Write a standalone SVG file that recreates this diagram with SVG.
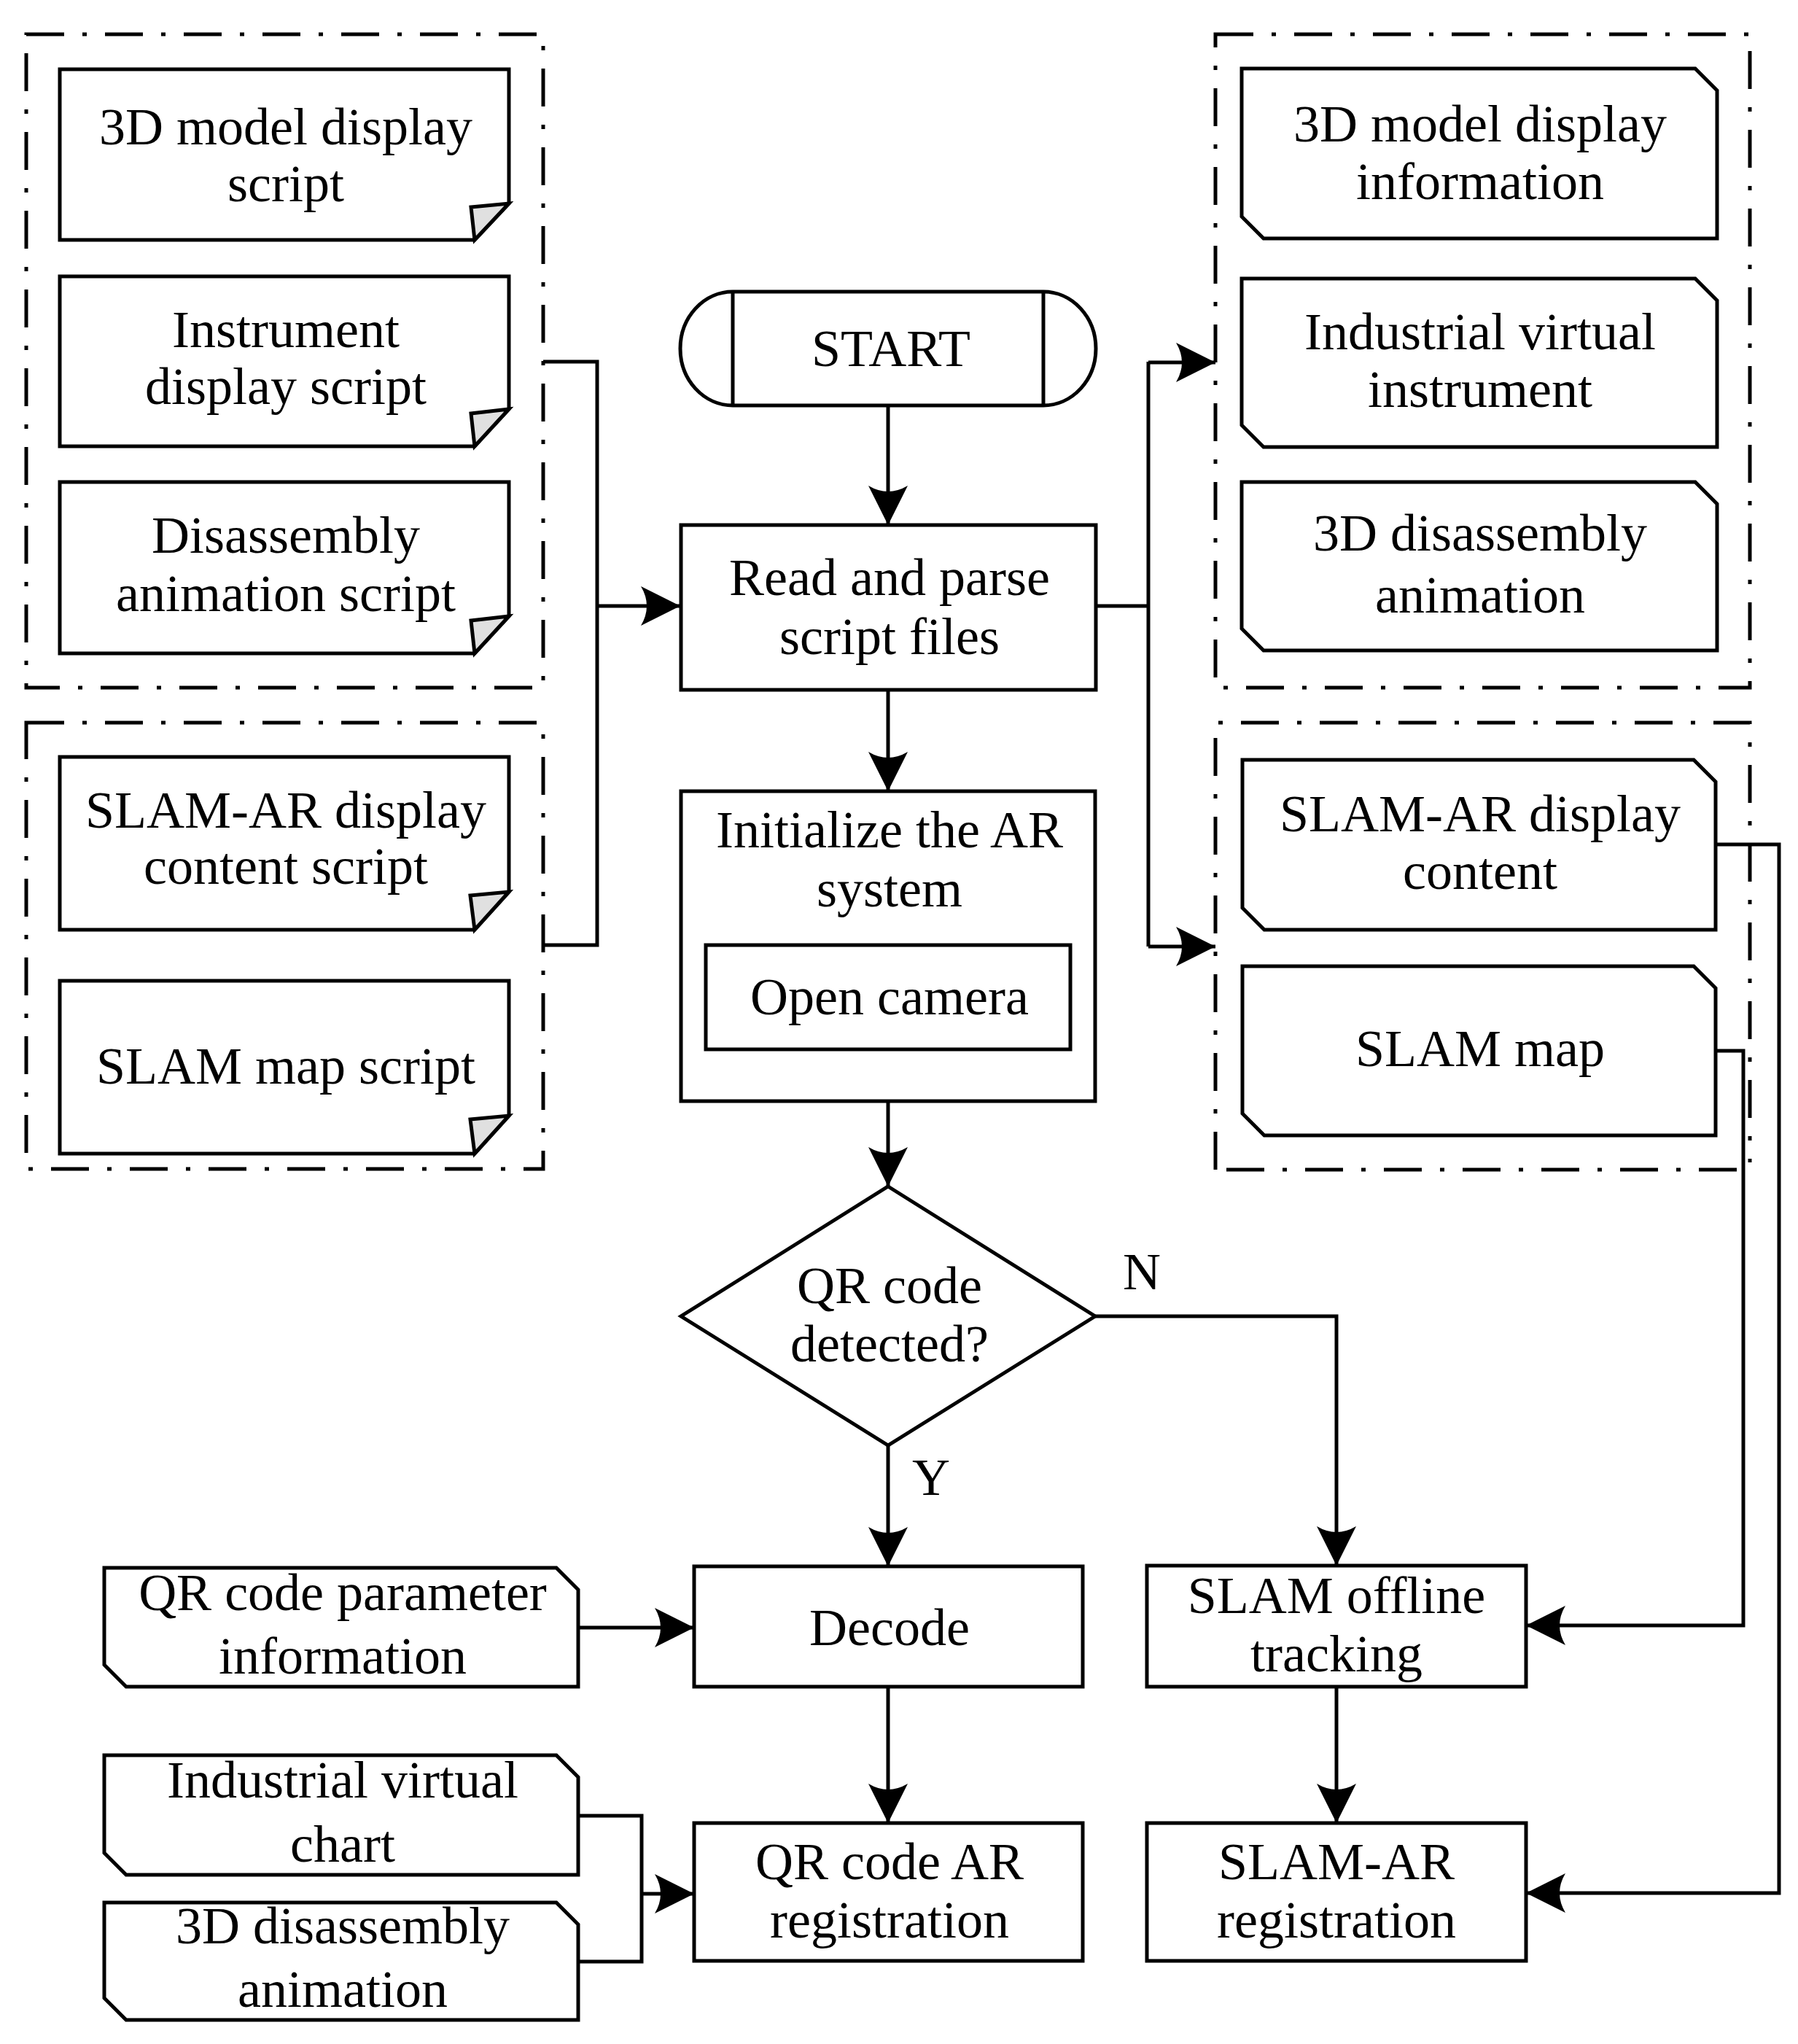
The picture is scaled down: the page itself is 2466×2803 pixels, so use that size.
<svg xmlns="http://www.w3.org/2000/svg" width="2466" height="2803" viewBox="0 0 2466 2803">
<style>
.n{fill:#fff;stroke:#000;stroke-width:5;stroke-linejoin:miter}
.f{fill:#e0e0e0;stroke:#000;stroke-width:5;stroke-linejoin:miter}
.g{fill:none;stroke:#000;stroke-width:5;stroke-dasharray:52 25 6 25}
.c{fill:none;stroke:#000;stroke-width:5}
.a{marker-end:url(#ah)}
text{font-family:"Liberation Serif","Times New Roman",serif;font-size:72px;fill:#000;text-anchor:middle}
</style>
<defs>
<marker id="ah" markerUnits="userSpaceOnUse" viewBox="-56 -28 58 56" refX="0" refY="0" markerWidth="58" markerHeight="56" orient="auto">
<path d="M0,0 L-54,-27 Q-38,0 -54,27 Z" fill="#000"/>
</marker>
</defs>
<rect width="2466" height="2803" fill="#fff"/>

<g id="groups">
<rect id="grp-left-top" class="g" x="36" y="47" width="709" height="896"/>
<rect id="grp-left-bottom" class="g" x="36" y="991" width="709" height="612"/>
<rect id="grp-right-top" class="g" x="1667" y="47" width="733" height="896"/>
<path id="grp-right-bottom" class="g" d="M1667,1604 V991 H2400 V1594 M2382,1604 H1667"/>
</g>

<g id="connectors">
<path class="c" d="M745,496 H819 V1296 H745"/>
<path class="c a" d="M819,831 H933"/>
<path class="c a" d="M1218,556 V720"/>
<path class="c a" d="M1218,946 V1085"/>
<path class="c a" d="M1218,1510 V1627"/>
<path class="c a" d="M1218,1982 V2148"/>
<path class="c a" d="M1218,2313 V2500"/>
<path class="c a" d="M1502,1805 H1833 V2147"/>
<path class="c a" d="M1833,2313 V2500"/>
<path class="c a" d="M792,2232 H952"/>
<path class="c" d="M792,2490 H880 V2690 H792"/>
<path class="c a" d="M880,2597 H952"/>
<path class="c" d="M1503,831 H1575"/>
<path class="c" d="M1575,496 V1298"/>
<path class="c a" d="M1575,497 H1667"/>
<path class="c a" d="M1575,1298 H1667"/>
<path class="c a" d="M2353,1158 H2440 V2596 H2093"/>
<path class="c a" d="M2353,1441 H2391 V2229 H2093"/>
</g>

<g id="n-3d-model-script">
<path class="n" d="M82,95 H698 V279 L651,329 H82 Z"/>
<path class="f" d="M651,329 L646,284 L698,279 Z"/>
<text x="392" y="198">3D model display</text>
<text x="392" y="276">script</text>
</g>
<g id="n-instrument-script">
<path class="n" d="M82,379 H698 V561 L651,612 H82 Z"/>
<path class="f" d="M651,612 L646,567 L698,561 Z"/>
<text x="392" y="476">Instrument</text>
<text x="392" y="554">display script</text>
</g>
<g id="n-disassembly-script">
<path class="n" d="M82,661 H698 V845 L651,896 H82 Z"/>
<path class="f" d="M651,896 L646,851 L698,845 Z"/>
<text x="392" y="758">Disassembly</text>
<text x="392" y="838">animation script</text>
</g>
<g id="n-slamar-script">
<path class="n" d="M82,1038 H698 V1223 L651,1275 H82 Z"/>
<path class="f" d="M651,1275 L645,1228 L698,1223 Z"/>
<text x="392" y="1135">SLAM-AR display</text>
<text x="392" y="1212">content script</text>
</g>
<g id="n-slammap-script">
<path class="n" d="M82,1345 H698 V1530 L651,1582 H82 Z"/>
<path class="f" d="M651,1582 L645,1535 L698,1530 Z"/>
<text x="392" y="1486">SLAM map script</text>
</g>

<g id="n-start">
<path class="n" d="M1005,400 H1431 A72 78 0 0 1 1431,556 H1005 A72 78 0 0 1 1005,400 Z"/>
<path class="c" d="M1005,400 V556 M1431,400 V556"/>
<text x="1222" y="502">START</text>
</g>
<g id="n-read">
<rect class="n" x="934" y="720" width="569" height="226"/>
<text x="1220" y="816">Read and parse</text>
<text x="1220" y="897">script files</text>
</g>
<g id="n-init">
<rect class="n" x="934" y="1085" width="568" height="425"/>
<text x="1220" y="1162">Initialize the AR</text>
<text x="1220" y="1243">system</text>
<rect class="n" x="968" y="1296" width="500" height="143"/>
<text x="1220" y="1391">Open camera</text>
</g>
<g id="n-decision">
<path class="n" d="M1218,1627 L1502,1805 L1218,1982 L934,1805 Z"/>
<text x="1220" y="1787">QR code</text>
<text x="1220" y="1867">detected?</text>
</g>
<text x="1277" y="2050">Y</text>
<text x="1566" y="1768">N</text>
<g id="n-decode">
<rect class="n" x="952" y="2148" width="533" height="165"/>
<text x="1220" y="2256">Decode</text>
</g>
<g id="n-qrar">
<rect class="n" x="952" y="2500" width="533" height="189"/>
<text x="1220" y="2577">QR code AR</text>
<text x="1220" y="2657">registration</text>
</g>
<g id="n-slam-offline">
<rect class="n" x="1573" y="2147" width="520" height="166"/>
<text x="1833" y="2212">SLAM offline</text>
<text x="1833" y="2292">tracking</text>
</g>
<g id="n-slamar-reg">
<rect class="n" x="1573" y="2500" width="520" height="189"/>
<text x="1833" y="2577">SLAM-AR</text>
<text x="1833" y="2657">registration</text>
</g>

<g id="n-qr-param">
<path class="n" d="M143,2150 H763 L793,2180 V2313 H173 L143,2283 Z"/>
<text x="470" y="2208">QR code parameter</text>
<text x="470" y="2295">information</text>
</g>
<g id="n-ind-chart">
<path class="n" d="M143,2407 H763 L793,2437 V2571 H173 L143,2541 Z"/>
<text x="470" y="2465">Industrial virtual</text>
<text x="470" y="2553">chart</text>
</g>
<g id="n-3d-dis-left">
<path class="n" d="M143,2609 H763 L793,2639 V2770 H173 L143,2740 Z"/>
<text x="470" y="2665">3D disassembly</text>
<text x="470" y="2752">animation</text>
</g>

<g id="n-3d-model-info">
<path class="n" d="M1703,94 H2325 L2355,124 V327 H1733 L1703,297 Z"/>
<text x="2030" y="194">3D model display</text>
<text x="2030" y="273">information</text>
</g>
<g id="n-ind-instrument">
<path class="n" d="M1703,382 H2325 L2355,412 V613 H1733 L1703,583 Z"/>
<text x="2030" y="479">Industrial virtual</text>
<text x="2030" y="558">instrument</text>
</g>
<g id="n-3d-dis-right">
<path class="n" d="M1703,661 H2325 L2355,691 V892 H1733 L1703,862 Z"/>
<text x="2030" y="755">3D disassembly</text>
<text x="2030" y="840">animation</text>
</g>
<g id="n-slamar-content">
<path class="n" d="M1704,1042 H2323 L2353,1072 V1275 H1734 L1704,1245 Z"/>
<text x="2030" y="1140">SLAM-AR display</text>
<text x="2030" y="1219">content</text>
</g>
<g id="n-slam-map">
<path class="n" d="M1704,1325 H2323 L2353,1355 V1557 H1734 L1704,1527 Z"/>
<text x="2030" y="1462">SLAM map</text>
</g>
</svg>
